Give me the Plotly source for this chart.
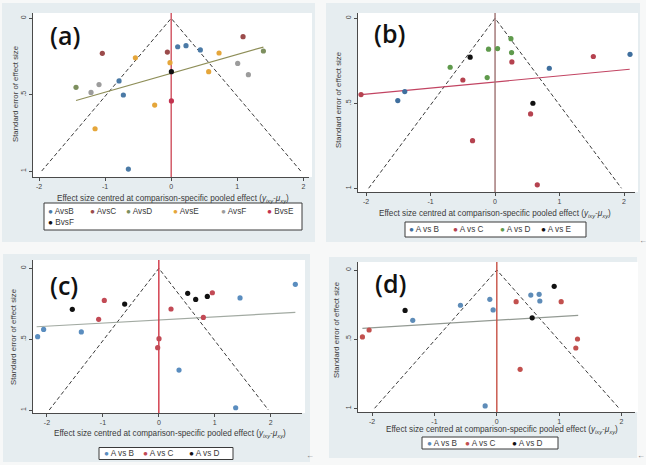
import plotly.graph_objects as go

W, H = 646, 465

# ---------------- data ----------------
# funnel (pseudo 95% CI) limits
funnel_x = [-1.96, 0, 1.96]
funnel_se = [1, 0, 1]
x_ticks = [-2, -1, 0, 1, 2]
x_ticktext = ["-2", "-1", "0", "1", "2"]
y_ticks = [0, 0.5, 1]
y_ticktext = ["0", ".5", "1"]

# panel (a)
a_AvsB_x = [0.098, 0.224, 0.441, -0.789, -0.724, -0.648]
a_AvsB_y = [0.186, 0.179, 0.207, 0.410, 0.502, 0.987]
a_AvsC_x = [-1.042, -0.058, 1.087]
a_AvsC_y = [0.229, 0.221, 0.120]
a_AvsD_x = [-1.44, 1.395]
a_AvsD_y = [0.452, 0.214]
a_AvsE_x = [-0.542, -0.018, 0.724, 0.567, -0.25, -1.152]
a_AvsE_y = [0.258, 0.290, 0.227, 0.349, 0.568, 0.723]
a_AvsF_x = [-1.092, -1.213, 1.006, 1.168]
a_AvsF_y = [0.434, 0.485, 0.295, 0.369]
a_BvsE_x = [0.003]
a_BvsE_y = [0.541]
a_BvsF_x = [0.003]
a_BvsF_y = [0.349]
a_fit_x = [-1.44, 1.395]
a_fit_y = [0.538, 0.188]

# panel (b)
b_AvsB_x = [-1.508, -1.40, 0.841, 2.093]
b_AvsB_y = [0.484, 0.431, 0.294, 0.212]
b_AvsC_x = [-2.078, -0.499, 0.261, 1.524, 0.551, -0.349, 0.655]
b_AvsC_y = [0.449, 0.363, 0.257, 0.225, 0.563, 0.720, 0.980]
b_AvsD_x = [0.246, -0.101, 0.039, 0.256, -0.696, -0.122]
b_AvsD_y = [0.120, 0.182, 0.178, 0.202, 0.288, 0.349]
b_AvsE_x = [-0.386, 0.587]
b_AvsE_y = [0.229, 0.500]
b_fit_x = [-2.078, 2.088]
b_fit_y = [0.449, 0.300]

# panel (c)
c_AvsB_x = [-2.167, -2.06, -1.386, 1.452, 2.441, 0.361, 1.374]
c_AvsB_y = [0.482, 0.431, 0.449, 0.209, 0.113, 0.718, 0.984]
c_AvsC_x = [-0.975, -1.076, 0.218, 0.957, 0.796, 0.003, -0.021]
c_AvsC_y = [0.226, 0.360, 0.287, 0.172, 0.346, 0.496, 0.560]
c_AvsD_x = [-1.547, -0.611, 0.516, 0.659, 0.867]
c_AvsD_y = [0.289, 0.252, 0.176, 0.219, 0.198]
c_fit_x = [-2.185, 2.441]
c_fit_y = [0.412, 0.311]

# panel (d)
d_AvsB_x = [-0.583, -0.112, -0.059, 0.545, 0.679, 0.690, -1.348, -0.187]
d_AvsB_y = [0.255, 0.212, 0.289, 0.181, 0.176, 0.224, 0.364, 0.983]
d_AvsC_x = [-2.155, -2.048, 0.310, 1.032, 1.294, 1.267, 0.374]
d_AvsC_y = [0.484, 0.434, 0.229, 0.229, 0.499, 0.564, 0.718]
d_AvsD_x = [-1.471, 0.920, 0.567]
d_AvsD_y = [0.292, 0.118, 0.346]
d_fit_x = [-2.155, 1.305]
d_fit_y = [0.422, 0.328]

# ---------------- styling / layout ----------------
FONT = "Liberation Sans"
PANEL_BG = "#E6EDF0"
AXIS_COL = "#4A4A4A"
TXT_COL = "#3A3A3A"


def px(x):
    return x / W


def py(y):
    return 1 - y / H


panels = [
    dict(
        label="(a)",
        series=[
            ("AvsB", a_AvsB_x, a_AvsB_y, "#4B7AA6"),
            ("AvsC", a_AvsC_x, a_AvsC_y, "#9B4B4B"),
            ("AvsD", a_AvsD_x, a_AvsD_y, "#7D8F5E"),
            ("AvsE", a_AvsE_x, a_AvsE_y, "#E5A63A"),
            ("AvsF", a_AvsF_x, a_AvsF_y, "#9C9C9C"),
            ("BvsE", a_BvsE_x, a_BvsE_y, "#C2324F"),
            ("BvsF", a_BvsF_x, a_BvsF_y, "#111111"),
        ],
        fit=(a_fit_x, a_fit_y, "#8E8E58"),
        vcol="#D0505E",
        bg=(2, 315, 3, 242),
        box=(33, 309, 13, 177),
        xr=[-2.091, 2.085], yr=[1.039, -0.035],
        lab=(65, 35),
        xt=(173, 198.5), yt=(15, 94),
        leg_box=(44, 302, 203, 230),
        leg_items=[(46, 211), (87.5, 211), (123.5, 211), (171, 211), (218.5, 211), (264.5, 211), (46, 222)],
    ),
    dict(
        label="(b)",
        series=[
            ("A vs B", b_AvsB_x, b_AvsB_y, "#3F6F9E"),
            ("A vs C", b_AvsC_x, b_AvsC_y, "#B5424F"),
            ("A vs D", b_AvsD_x, b_AvsD_y, "#5F9A4C"),
            ("A vs E", b_AvsE_x, b_AvsE_y, "#111111"),
        ],
        fit=(b_fit_x, b_fit_y, "#C24462"),
        vcol="#9E7272",
        bg=(326, 640, 3, 242),
        box=(358, 635, 13, 192),
        xr=[-2.125, 2.17], yr=[1.022, -0.031],
        lab=(389, 33),
        xt=(495, 213.5), yt=(338, 100),
        leg_box=(405, 586, 222, 237),
        leg_items=[(407, 229.5), (451, 229.5), (498, 229.5), (539, 229.5)],
    ),
    dict(
        label="(c)",
        series=[
            ("A vs B", c_AvsB_x, c_AvsB_y, "#5A8DBF"),
            ("A vs C", c_AvsC_x, c_AvsC_y, "#C24A55"),
            ("A vs D", c_AvsD_x, c_AvsD_y, "#111111"),
        ],
        fit=(c_fit_x, c_fit_y, "#A2AAA2"),
        vcol="#D03444",
        bg=(3, 310, 254, 462),
        box=(33, 302, 260, 413),
        xr=[-2.25, 2.56], yr=[1.021, -0.059],
        lab=(64, 285),
        xt=(170, 434), yt=(13, 337),
        leg_box=(99, 233, 447.5, 459.5),
        leg_items=[(102, 453.5), (140.5, 453.5), (187, 453.5)],
    ),
    dict(
        label="(d)",
        series=[
            ("A vs B", d_AvsB_x, d_AvsB_y, "#5E8CB8"),
            ("A vs C", d_AvsC_x, d_AvsC_y, "#C2504E"),
            ("A vs D", d_AvsD_x, d_AvsD_y, "#111111"),
        ],
        fit=(d_fit_x, d_fit_y, "#939A93"),
        vcol="#C65044",
        bg=(329, 637, 257, 458),
        box=(358, 635, 262, 412),
        xr=[-2.226, 2.216], yr=[1.027, -0.058],
        lab=(390, 283),
        xt=(502, 430), yt=(336, 330),
        leg_box=(422, 558, 437, 449),
        leg_items=[(425, 443), (462.5, 443), (510, 443)],
    ),
]

fig = go.Figure()
shapes = []
annotations = []
layout_axes = {}

for i, p in enumerate(panels, start=1):
    xa = "x" if i == 1 else f"x{i}"
    ya = "y" if i == 1 else f"y{i}"
    L, R, T, B = p["box"]
    bx0, bx1, by0, by1 = p["bg"]
    # panel (graph region) background and white plot region
    shapes.append(dict(type="rect", xref="paper", yref="paper", layer="below",
                       x0=px(bx0), x1=px(bx1), y0=py(by1), y1=py(by0),
                       fillcolor=PANEL_BG, line=dict(width=0)))
    shapes.append(dict(type="rect", xref="paper", yref="paper", layer="below",
                       x0=px(L), x1=px(R + 3), y0=py(B), y1=py(T),
                       fillcolor="white", line=dict(width=0)))

    # funnel dashed lines
    fig.add_trace(go.Scatter(x=funnel_x, y=funnel_se, mode="lines", xaxis=xa, yaxis=ya,
                             line=dict(color="#3A3A3A", width=1, dash="4px,2.5px"),
                             showlegend=False, hoverinfo="skip"))
    # regression line
    fx, fy, fcol = p["fit"]
    fig.add_trace(go.Scatter(x=fx, y=fy, mode="lines", xaxis=xa, yaxis=ya,
                             line=dict(color=fcol, width=1.2),
                             showlegend=False, hoverinfo="skip"))
    # vertical line at zero
    fig.add_trace(go.Scatter(x=[0, 0], y=[-0.3, 1.3], mode="lines", xaxis=xa, yaxis=ya,
                             line=dict(color=p["vcol"], width=1.4),
                             showlegend=False, hoverinfo="skip"))
    # markers
    for name, sx, sy, col in p["series"]:
        fig.add_trace(go.Scatter(x=sx, y=sy, mode="markers", xaxis=xa, yaxis=ya, name=name,
                                 marker=dict(color=col, size=5.2, line=dict(width=0)),
                                 showlegend=False))

    axis_common = dict(showgrid=False, zeroline=False, showline=True, linecolor=AXIS_COL,
                       linewidth=1, ticks="outside", ticklen=3, tickcolor=AXIS_COL,
                       tickfont=dict(family=FONT, size=7, color="#444444"))
    layout_axes["xaxis" if i == 1 else f"xaxis{i}"] = dict(
        domain=[px(L), px(R)], range=p["xr"], anchor=ya,
        tickmode="array", tickvals=x_ticks, ticktext=x_ticktext, **axis_common)
    layout_axes["yaxis" if i == 1 else f"yaxis{i}"] = dict(
        domain=[py(B), py(T)], range=p["yr"], anchor=xa,
        tickmode="array", tickvals=y_ticks, ticktext=y_ticktext, tickangle=-90,
        **axis_common)

    # panel label
    annotations.append(dict(xref="paper", yref="paper", x=px(p["lab"][0]), y=py(p["lab"][1]),
                            text=p["label"], showarrow=False, xanchor="center", yanchor="middle",
                            font=dict(family="Open Sans", size=25, color="#111111", weight=600)))
    # axis titles
    annotations.append(dict(xref="paper", yref="paper", x=px(p["xt"][0]), y=py(p["xt"][1]),
                            text="Effect size centred at comparison-specific pooled effect (<i>y<sub>ixy</sub>-μ<sub>xy</sub></i>)",
                            showarrow=False, xanchor="center", yanchor="middle",
                            font=dict(family=FONT, size=8.2, color=TXT_COL)))
    annotations.append(dict(xref="paper", yref="paper", x=px(p["yt"][0]), y=py(p["yt"][1]),
                            text="Standard error of effect size", textangle=-90,
                            showarrow=False, xanchor="center", yanchor="middle",
                            font=dict(family=FONT, size=7.8, color=TXT_COL)))
    # legend box
    lx0, lx1, ly0, ly1 = p["leg_box"]
    shapes.append(dict(type="rect", xref="paper", yref="paper", layer="above",
                       x0=px(lx0), x1=px(lx1), y0=py(ly1), y1=py(ly0),
                       fillcolor="rgba(0,0,0,0)", line=dict(color="#3A3A3A", width=1)))
    shapes.append(dict(type="rect", xref="paper", yref="paper", layer="below",
                       x0=px(lx0), x1=px(lx1), y0=py(ly1), y1=py(ly0),
                       fillcolor="white", line=dict(width=0)))
    for (name, sx, sy, col), (ix, iy) in zip(p["series"], p["leg_items"]):
        annotations.append(dict(xref="paper", yref="paper", x=px(ix), y=py(iy),
                                text=f'<span style="color:{col}">●</span> {name}',
                                showarrow=False, xanchor="left", yanchor="middle",
                                font=dict(family=FONT, size=8.2, color=TXT_COL)))

# small paragraph marks from the source document
for (ax_, ay_) in [(643, 240), (310, 455), (641, 455)]:
    annotations.append(dict(xref="paper", yref="paper", x=px(ax_), y=py(ay_), text="←",
                            showarrow=False, xanchor="center", yanchor="middle",
                            font=dict(family=FONT, size=8, color="#777777")))

fig.update_layout(
    width=W, height=H,
    margin=dict(l=0, r=0, t=0, b=0),
    paper_bgcolor="#F7F8F8",
    plot_bgcolor="white",
    showlegend=False,
    shapes=shapes,
    annotations=annotations,
    **layout_axes,
)

fig.write_html("out.html")
